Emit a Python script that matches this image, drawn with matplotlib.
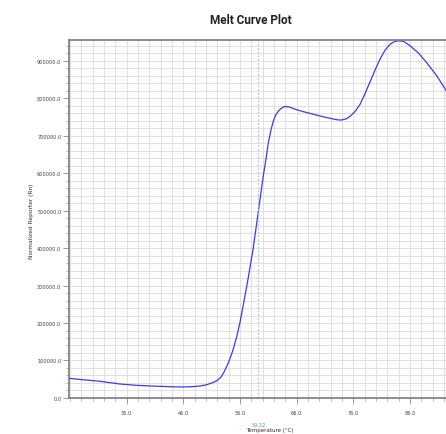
import numpy as np
import matplotlib
matplotlib.use("Agg")
import matplotlib.pyplot as plt
from matplotlib.ticker import MultipleLocator, FormatStrFormatter
import matplotlib.transforms as mtransforms

# melt curve: temperature (C) vs normalized reporter
temp = [25.8, 28.0, 31.3, 34.8, 37.5, 40.1, 43.0, 45.4, 47.5, 48.9, 50.0, 51.0,
        51.9, 52.6, 53.2, 53.7, 54.3, 54.8, 55.4, 56.0, 57.2, 58.3, 59.2, 60.1,
        60.6, 61.0, 61.5, 61.9, 62.3, 62.8, 63.3, 63.8, 64.2, 64.8, 65.6, 66.6,
        68.0, 69.5, 71.0, 72.5, 73.2, 73.9, 74.7, 75.4, 76.3, 77.2, 78.0, 78.9,
        79.8, 80.7, 81.6, 82.5, 83.3, 84.05, 84.8, 85.5, 86.0, 87.5, 88.9, 90.7, 92.4]
rn = [52500, 49000, 44500, 37300, 34000, 32000, 30500, 29300, 30000, 32000, 35000, 40000,
      46100, 55000, 70000, 86000, 108000, 130700, 163000, 202700, 299500, 397300, 495200, 592800,
      640000, 681900, 718000, 740000, 755000, 766000, 773000, 777000, 777400, 775500, 771000, 766200,
      760500, 754700, 749000, 744000, 742000, 741400, 744500, 751200, 764000, 784000, 810000, 841900,
      874000, 904000, 928000, 944000, 951000, 953000, 951500, 945000, 939500, 920000, 895200, 860000, 819500]

tm = 59.22
tm_label = "59.22"
title = "Melt Curve Plot"
xlabel = "Temperature (\u00b0C)"
ylabel = "Normalized Reporter (Rn)"

fig = plt.figure(figsize=(4.46, 4.35), dpi=100)
ax = fig.add_axes([0.1547, 0.0828, 0.8453, 0.8230])

ax.plot(temp, rn, color="#3a3af0", lw=0.9)
ax.axvline(tm, color="#a9c6f2", lw=0.9, ls=(0, (1.5, 1.5)))

ax.set_xlim(25.8, 92.35)
ax.set_ylim(0, 955000)

ax.xaxis.set_minor_locator(MultipleLocator(2))
ax.yaxis.set_major_locator(MultipleLocator(100000))
ax.yaxis.set_minor_locator(MultipleLocator(20000))
ax.set_xticks(np.arange(36, 92, 10))
ax.xaxis.set_major_formatter(FormatStrFormatter("%.1f"))
ax.yaxis.set_major_formatter(FormatStrFormatter("%.1f"))

ax.grid(which="both", color="#e0e0e0", lw=0.75)
ax.set_axisbelow(True)

for s in ["left", "bottom", "top"]:
    ax.spines[s].set_color("#7a7a7a")
    ax.spines[s].set_linewidth(1.2)
ax.spines["right"].set_visible(False)

ax.tick_params(which="major", length=4, width=0.6, color="#8a8a8a",
               labelsize=3.6, labelcolor="#404040", pad=1.5)
ax.tick_params(which="minor", length=2.5, width=0.5, color="#9a9a9a")
ax.tick_params(axis="x", which="major", pad=5)

trans = mtransforms.blended_transform_factory(ax.transData, fig.transFigure)
ax.text(tm, (435 - 426) / 435, tm_label, transform=trans, ha="center", va="center",
        fontsize=3.6, color="#5a8ed8")

fig.text(270 / 446, (435 - 431) / 435, xlabel, ha="center", va="center",
         fontsize=4.0, color="#303030")
fig.text(31 / 446, (435 - 221) / 435, ylabel, rotation=90, ha="center", va="center",
         fontsize=4.2, color="#303030")
fig.text(251 / 446, (435 - 21) / 435, title, ha="center", va="center",
         fontsize=8.5, fontweight="bold", family=["Roboto", "DejaVu Sans"],
         color="#202020")

fig.savefig("out.png", dpi=100)
